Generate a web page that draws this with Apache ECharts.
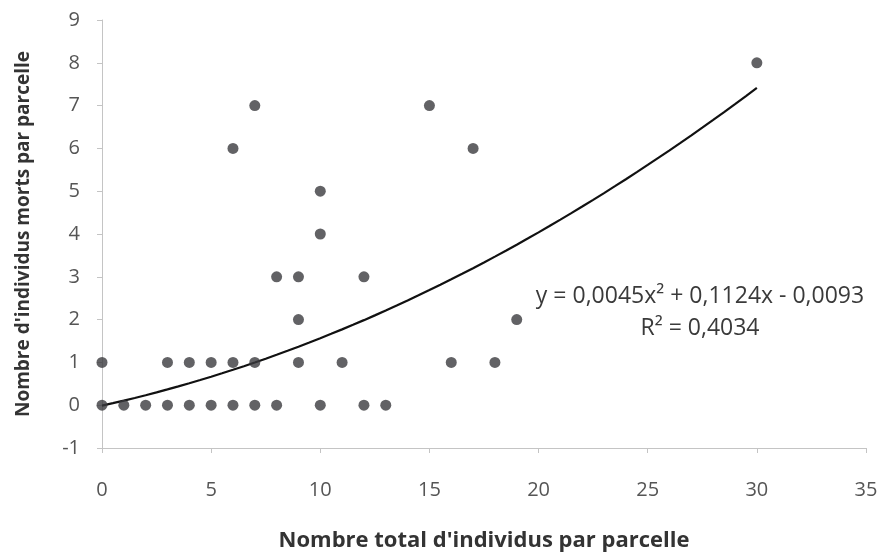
<!DOCTYPE html>
<html>
<head>
<meta charset="utf-8">
<script src="https://cdn.jsdelivr.net/npm/echarts@6/dist/echarts.min.js"></script>
<style>html,body{margin:0;padding:0;background:#fff}#c{width:881px;height:559px}</style>
</head>
<body>
<div id="c"></div>
<script>
// Observed points: total individuals per plot (x) and dead individuals per plot (y)
const xValues = [0,1,2,3,4,5,6,7,8,10,12,13, 0,3,4,5,6,7,9,11,16,18, 9,19, 8,9,12, 10, 10, 6,17, 7,15, 30];
const yValues = [0,0,0,0,0,0,0,0,0,0,0,0, 1,1,1,1,1,1,1,1,1,1, 2,2, 3,3,3, 4, 5, 6,6, 7,7, 8];
// Polynomial trendline coefficients as printed on the chart: a x² + b x + c
const trendCoeffs = [0.0045, 0.1124, -0.0093];
const trendRange = [0, 30];
const xTicks = [0, 35, 5];
const yTicks = [-1, 9, 1];
const equationText = 'y = 0,0045x² + 0,1124x - 0,0093';
const r2Text = 'R² = 0,4034';

const points = xValues.map((x, i) => [x, yValues[i]]);
const trend = [];
for (let x = trendRange[0]; x <= trendRange[1] + 1e-9; x += 0.5) {
  trend.push([x, trendCoeffs[0]*x*x + trendCoeffs[1]*x + trendCoeffs[2]]);
}

const font = '"Open Sans", Lato, sans-serif';
const chart = echarts.init(document.getElementById('c'));
chart.setOption({
  backgroundColor: '#ffffff',
  animation: false,
  grid: { left: 102, right: 15, top: 20, bottom: 111 },
  xAxis: {
    type: 'value', min: xTicks[0], max: xTicks[1], interval: xTicks[2],
    name: "Nombre total d'individus par parcelle",
    nameLocation: 'middle', nameGap: 82,
    nameTextStyle: { fontFamily: font, fontSize: 22, fontWeight: 'bold', color: '#333333' },
    axisLine: { show: true, onZero: false, lineStyle: { color: '#c4c4c4', width: 1 } },
    axisTick: { show: true, inside: false, length: 5, lineStyle: { color: '#c4c4c4' } },
    axisLabel: { fontFamily: font, fontSize: 20, color: '#555555', margin: 32 },
    splitLine: { show: false }
  },
  yAxis: {
    type: 'value', min: yTicks[0], max: yTicks[1], interval: yTicks[2],
    name: "Nombre d'individus morts par parcelle",
    nameLocation: 'middle', nameGap: 69, nameRotate: 90,
    nameTextStyle: { fontFamily: font, fontSize: 19, fontWeight: 'bold', color: '#333333' },
    axisLine: { show: true, onZero: false, lineStyle: { color: '#c4c4c4', width: 1 } },
    axisTick: { show: true, inside: false, length: 5, lineStyle: { color: '#c4c4c4' } },
    axisLabel: { fontFamily: font, fontSize: 20, color: '#555555', margin: 22 },
    splitLine: { show: false }
  },
  series: [
    {
      type: 'line', data: trend, showSymbol: false, smooth: false,
      lineStyle: { color: '#111111', width: 2.2 }, z: 2
    },
    {
      type: 'scatter', data: points, symbol: 'circle', symbolSize: 11,
      itemStyle: { color: '#3b3b3e' }, z: 3
    }
  ],
  graphic: [
    { type: 'text', x: 700, y: 296, style: { text: equationText, fontFamily: font, fontSize: 23, fill: '#3a3a3a', align: 'center', verticalAlign: 'middle' } },
    { type: 'text', x: 700, y: 328, style: { text: r2Text, fontFamily: font, fontSize: 23, fill: '#3a3a3a', align: 'center', verticalAlign: 'middle' } }
  ]
});
</script>
</body>
</html>
